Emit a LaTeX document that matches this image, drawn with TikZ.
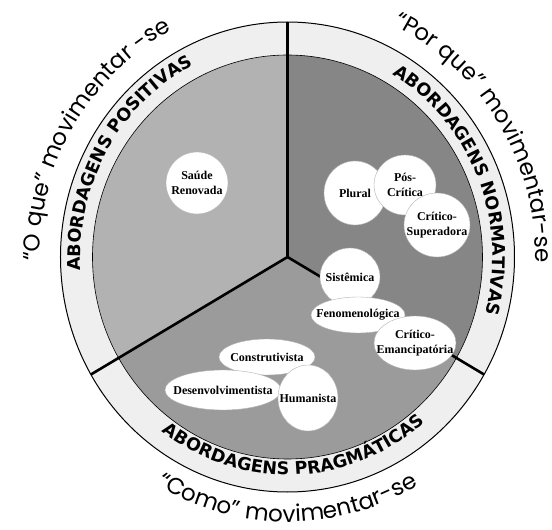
\documentclass[tikz,border=0pt]{standalone}
\usepackage{fontspec}
\setmainfont{Liberation Serif}
\newfontfamily\ringfont{DejaVu Sans}
\newfontfamily\outerfont{Poppins}
\usetikzlibrary{shapes.geometric,decorations.text}
\definecolor{ringgray}{HTML}{EFEFEF}
\definecolor{posgray}{HTML}{B2B2B2}
\definecolor{normgray}{HTML}{868686}
\definecolor{praggray}{HTML}{9B9B9B}
\newcommand{\ringtxt}{\ringfont\bfseries\fontsize{17.5}{17.5}\selectfont}
\newcommand{\outertxt}{\outerfont\fontsize{23}{23}\selectfont}
\begin{document}
\begin{tikzpicture}[x=1pt,y=1pt,
    bubble/.style={ellipse,fill=white,draw=gray!60,line width=0.4pt,inner sep=0pt},
    lbl/.style={font=\bfseries\fontsize{12}{14.5}\selectfont,align=center,inner sep=0pt},
    divider/.style={line width=2.6pt},
    ringlabel/.style={decorate,decoration={text along path,text align=center,text={|\ringtxt|#1}}},
    outerlabel/.style={decorate,decoration={text along path,text align=center,text={|\outertxt|#1}}}]
    \useasboundingbox (-287.5,-273) rectangle (264.5,257);

    \coordinate (hub) at (0,0);
    \coordinate (top) at (90:227 and 235);
    \coordinate (left) at (210:227 and 235);
    \coordinate (right) at (330:227 and 235);

    \filldraw[fill=ringgray,draw=black,line width=1pt] (hub) ellipse [x radius=227,y radius=235];
    \fill[posgray] (hub) -- (90:195 and 202) arc[start angle=90,end angle=210,x radius=195,y radius=202] -- cycle;
    \fill[praggray] (hub) -- (210:195 and 202) arc[start angle=210,end angle=330,x radius=195,y radius=202] -- cycle;
    \fill[normgray] (hub) -- (330:195 and 202) arc[start angle=330,end angle=450,x radius=195,y radius=202] -- cycle;
    \draw[line width=0.6pt] (hub) ellipse [x radius=195,y radius=202];
    \draw[divider] (hub) -- (top);
    \draw[divider] (hub) -- (left);
    \draw[divider] (hub) -- (right);

    \path[ringlabel={ABORDAGENS POSITIVAS}] (200:207 and 215) arc[start angle=200,end angle=100,x radius=207,y radius=215];
    \path[ringlabel={ABORDAGENS NORMATIVAS}] (72:205 and 213) arc[start angle=72,end angle=-28,x radius=205,y radius=213];
    \path[ringlabel={ABORDAGENS PRAGMÁTICAS}] (222:210 and 218) arc[start angle=222,end angle=322,x radius=210,y radius=218];

    \path[outerlabel={“O que” movimentar -se}] (200:248 and 256) arc[start angle=200,end angle=98,x radius=248,y radius=256];
    \path[outerlabel={“Por que” movimentar-se}] (82:248 and 256) arc[start angle=82,end angle=-18,x radius=248,y radius=256];
    \path[outerlabel={“Como” movimentar-se}] (220:257 and 265) arc[start angle=220,end angle=320,x radius=257,y radius=265];

    \node[bubble,minimum width=62pt,minimum height=62pt] (saude) at (-90.5,74) {};
    \node[bubble,minimum width=62pt,minimum height=64pt] (plural) at (67.5,64) {};
    \node[bubble,minimum width=62pt,minimum height=60pt] (poscritica) at (117.5,72) {};
    \node[bubble,minimum width=66pt,minimum height=64pt] (superadora) at (149.5,32) {};
    \node[bubble,minimum width=60pt,minimum height=58pt] (sistemica) at (62.5,-20) {};
    \node[bubble,minimum width=94pt,minimum height=36pt] (fenomeno) at (70.5,-58) {};
    \node[bubble,minimum width=82pt,minimum height=54pt] (emancipa) at (127.5,-86) {};
    \node[bubble,minimum width=96pt,minimum height=36pt] (construt) at (-20.5,-100) {};
    \node[bubble,minimum width=116pt,minimum height=40pt] (desenvol) at (-64.5,-133) {};
    \node[bubble,minimum width=60pt,minimum height=66pt] (humanista) at (20.5,-141) {};

    \node[lbl] (saude-t) at (saude) {Saúde\\Renovada};
    \node[lbl] (plural-t) at (plural) {Plural};
    \node[lbl] (poscritica-t) at (poscritica) {Pós-\\Crítica};
    \node[lbl] (superadora-t) at (superadora) {Crítico-\\Superadora};
    \node[lbl] (sistemica-t) at (sistemica) {Sistêmica};
    \node[lbl] (fenomeno-t) at (fenomeno) {Fenomenológica};
    \node[lbl] (emancipa-t) at (emancipa) {Crítico-\\Emancipatória};
    \node[lbl] (construt-t) at (construt) {Construtivista};
    \node[lbl] (desenvol-t) at (desenvol) {Desenvolvimentista};
    \node[lbl] (humanista-t) at (humanista) {Humanista};
  \end{tikzpicture}
\end{document}
